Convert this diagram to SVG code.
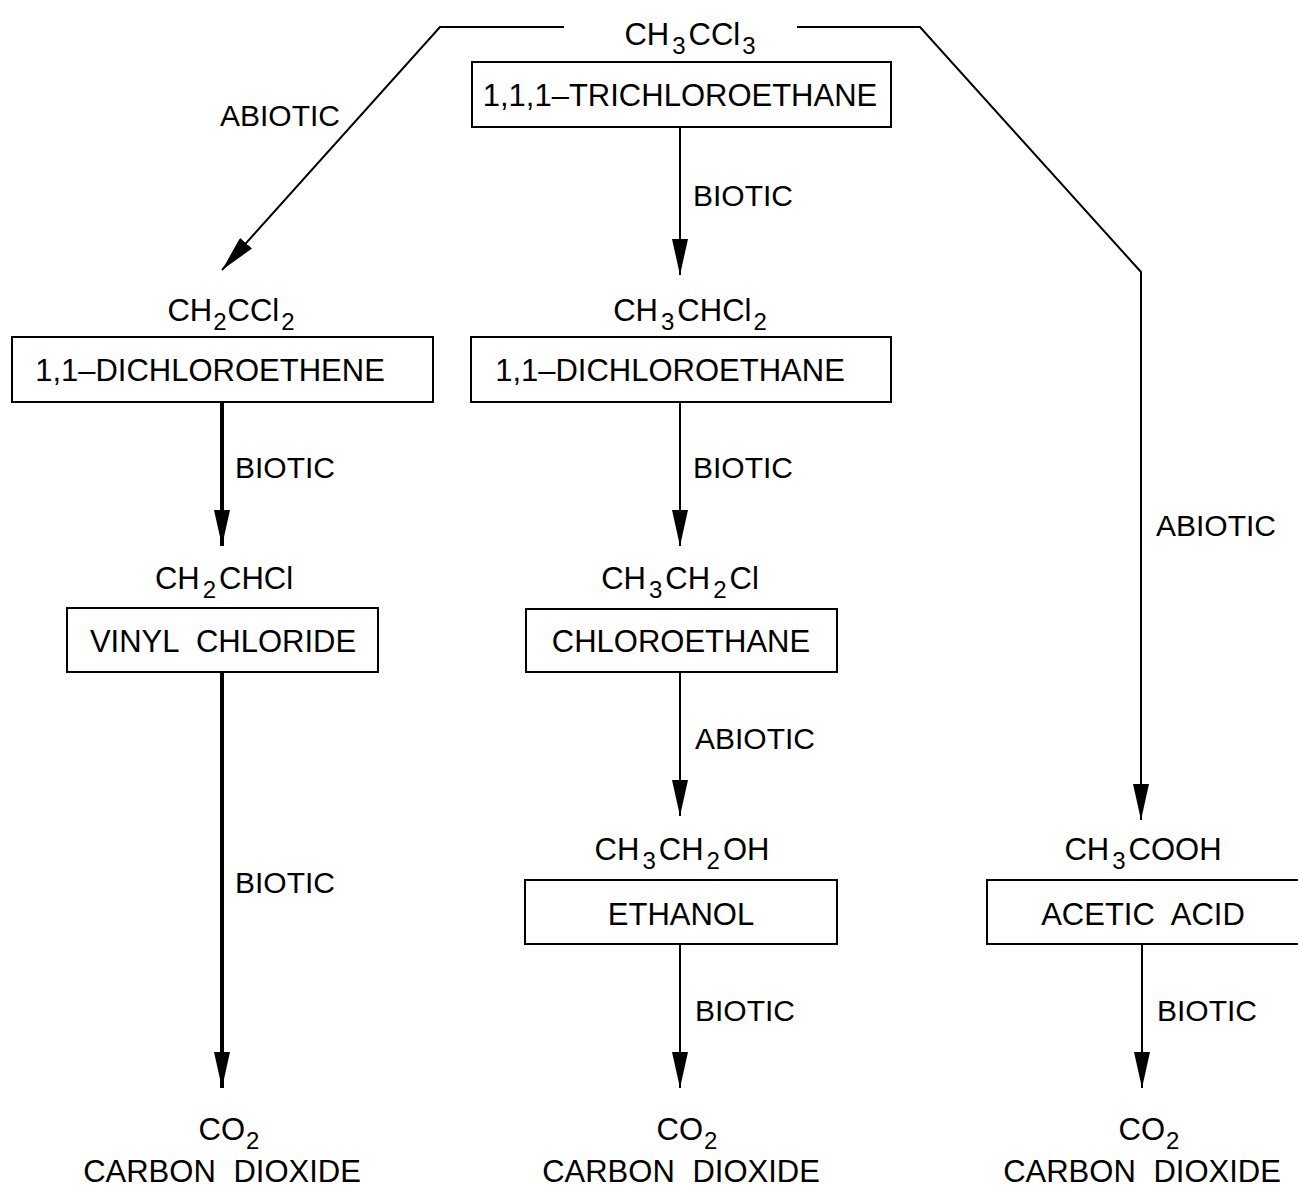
<svg xmlns="http://www.w3.org/2000/svg" width="1298" height="1188" viewBox="0 0 1298 1188">
<style>
text{font-family:"Liberation Sans",Arial,sans-serif;font-size:31px;fill:#000;text-anchor:middle}
.lbl{text-anchor:start;font-size:30px}
.sub{font-size:24px}
.two{word-spacing:9px}
.box{fill:#fff;stroke:#000;stroke-width:2}
.ln{fill:none;stroke:#000;stroke-width:2}
.thick{stroke-width:4}
</style>
<defs>
<marker id="ah" viewBox="0 0 36 16" refX="36" refY="8" markerWidth="36" markerHeight="16" markerUnits="userSpaceOnUse" orient="auto">
<path d="M0,0 L36,8 L0,16 z" fill="#000"/>
</marker>
</defs>
<rect width="1298" height="1188" fill="#fff"/>
<g id="connectors">
<polyline class="ln" points="564,27 440,27 222,270" marker-end="url(#ah)"/>
<polyline class="ln" points="797,27 920,27 1141,272 1141,820" marker-end="url(#ah)"/>
<line class="ln" x1="680" y1="127" x2="680" y2="275" marker-end="url(#ah)"/>
<line class="ln thick" x1="222" y1="402" x2="222" y2="546" marker-end="url(#ah)"/>
<line class="ln" x1="680" y1="402" x2="680" y2="546" marker-end="url(#ah)"/>
<line class="ln thick" x1="222" y1="672" x2="222" y2="1088" marker-end="url(#ah)"/>
<line class="ln" x1="680" y1="672" x2="680" y2="816" marker-end="url(#ah)"/>
<line class="ln" x1="680" y1="944" x2="680" y2="1088" marker-end="url(#ah)"/>
<line class="ln" x1="1142" y1="944" x2="1142" y2="1088" marker-end="url(#ah)"/>
<text class="lbl" x="220" y="126">ABIOTIC</text>
<text class="lbl" x="693" y="206">BIOTIC</text>
<text class="lbl" x="1156" y="536">ABIOTIC</text>
<text class="lbl" x="235" y="478">BIOTIC</text>
<text class="lbl" x="693" y="478">BIOTIC</text>
<text class="lbl" x="695" y="749">ABIOTIC</text>
<text class="lbl" x="235" y="893">BIOTIC</text>
<text class="lbl" x="695" y="1021">BIOTIC</text>
<text class="lbl" x="1157" y="1021">BIOTIC</text>
</g>
<g id="n-trichloroethane">
<text x="690" y="45">CH<tspan class="sub" dx="3" dy="9">3</tspan><tspan dx="3" dy="-9">CCl</tspan><tspan class="sub" dx="2" dy="9">3</tspan></text>
<rect class="box" x="472" y="62" width="419" height="65"/>
<text x="680" y="106">1,1,1–TRICHLOROETHANE</text>
</g>
<g id="n-dichloroethene">
<text x="231" y="321">CH<tspan class="sub" dx="1" dy="9">2</tspan><tspan dx="1" dy="-9">CCl</tspan><tspan class="sub" dx="2" dy="9">2</tspan></text>
<rect class="box" x="12" y="337" width="421" height="65"/>
<text x="210" y="381">1,1–DICHLOROETHENE</text>
</g>
<g id="n-dichloroethane">
<text x="690" y="321">CH<tspan class="sub" dx="3" dy="9">3</tspan><tspan dx="3" dy="-9">CHCl</tspan><tspan class="sub" dx="2" dy="9">2</tspan></text>
<rect class="box" x="471" y="337" width="420" height="65"/>
<text x="670" y="381">1,1–DICHLOROETHANE</text>
</g>
<g id="n-vinylchloride">
<text x="224" y="589">CH<tspan class="sub" dx="3" dy="9">2</tspan><tspan dx="3" dy="-9">CHCl</tspan></text>
<rect class="box" x="67" y="608" width="311" height="64"/>
<text class="two" x="223" y="652">VINYL CHLORIDE</text>
</g>
<g id="n-chloroethane">
<text x="680" y="589">CH<tspan class="sub" dx="3" dy="9">3</tspan><tspan dx="3" dy="-9">CH</tspan><tspan class="sub" dx="3" dy="9">2</tspan><tspan dx="3" dy="-9">Cl</tspan></text>
<rect class="box" x="526" y="609" width="311" height="63"/>
<text x="681" y="652">CHLOROETHANE</text>
</g>
<g id="n-ethanol">
<text x="682" y="860">CH<tspan class="sub" dx="3" dy="9">3</tspan><tspan dx="3" dy="-9">CH</tspan><tspan class="sub" dx="3" dy="9">2</tspan><tspan dx="3" dy="-9">OH</tspan></text>
<rect class="box" x="525" y="880" width="312" height="64"/>
<text x="681" y="925">ETHANOL</text>
</g>
<g id="n-aceticacid">
<text x="1143" y="860">CH<tspan class="sub" dx="3" dy="9">3</tspan><tspan dx="3" dy="-9">COOH</tspan></text>
<rect class="box" x="987" y="880" width="320" height="64"/>
<text class="two" x="1143" y="925">ACETIC ACID</text>
</g>
<g id="n-co2-left">
<text x="229" y="1140">CO<tspan class="sub" dx="1" dy="9">2</tspan></text>
<text class="two" x="222" y="1182">CARBON DIOXIDE</text>
</g>
<g id="n-co2-mid">
<text x="687" y="1140">CO<tspan class="sub" dx="1" dy="9">2</tspan></text>
<text class="two" x="681" y="1182">CARBON DIOXIDE</text>
</g>
<g id="n-co2-right">
<text x="1149" y="1140">CO<tspan class="sub" dx="1" dy="9">2</tspan></text>
<text class="two" x="1142" y="1182">CARBON DIOXIDE</text>
</g>
</svg>
